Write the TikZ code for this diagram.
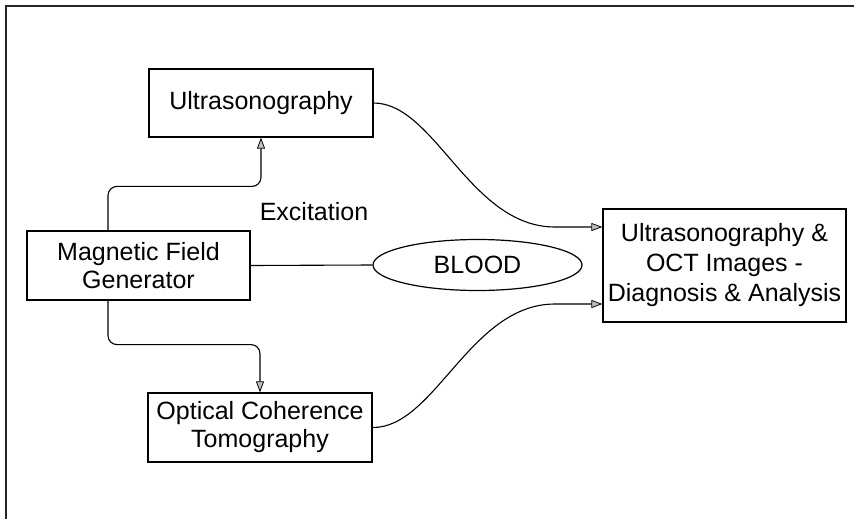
\documentclass[tikz,border=0pt]{standalone}
\usepackage{fontspec}
\setmainfont{Liberation Sans}
\usetikzlibrary{arrows.meta,shapes.geometric}
\begin{document}
\begin{tikzpicture}[x=1pt,y=-1pt,
  box/.style={draw, line width=1.2pt, inner sep=0pt, align=center, font=\fontsize{25}{28}\selectfont},
  conn/.style={line width=1.1pt},
  arr/.style={conn, -{Triangle[length=11pt,width=8pt,fill=gray!50,line width=0.8pt]}}]
\useasboundingbox (0,0) rectangle (854,519);
\draw[line width=1.6pt, black!85] (6,519) -- (6,6) -- (854,6);
\node[box, minimum width=224pt, minimum height=68pt] (us) at (261,103) {Ultrasonography};
\node[box, minimum width=223pt, minimum height=69pt] (mfg) at (138.5,265.5) {Magnetic Field\\Generator};
\node[box, minimum width=224pt, minimum height=69pt] (oct) at (260,427.5) {Optical Coherence\\Tomography};
\node[box, minimum width=243pt, minimum height=113pt, font=\fontsize{25}{30}\selectfont] (res) at (724.5,265.5) {Ultrasonography \&\\OCT Images -\\Diagnosis \& Analysis};
\node[ellipse, draw, line width=1.2pt, minimum width=209pt, minimum height=51pt, inner sep=0pt, font=\fontsize{25}{28}\selectfont] (blood) at (477.5,265) {BLOOD};
\node[font=\fontsize{25}{28}\selectfont] (exc) at (314,212) {Excitation};
\coordinate (c1) at (555,227);
\coordinate (c2) at (555,304);
\draw[conn] (mfg.east) -- (blood.west);
\draw[arr, rounded corners=9pt] ([xshift=-30.5pt]mfg.north) -- ++(0,-44) -| (us.south);
\draw[arr, rounded corners=9pt] ([xshift=-30.5pt]mfg.south) -- ++(0,44) -| (oct.north);
\draw[arr] (us.east) .. controls (435,103) and (470,227) .. (c1) -- ([yshift=38.5pt]res.west);
\draw[arr] (oct.east) .. controls (435,428) and (470,304) .. (c2) -- ([yshift=-38.5pt]res.west);
\end{tikzpicture}
\end{document}
